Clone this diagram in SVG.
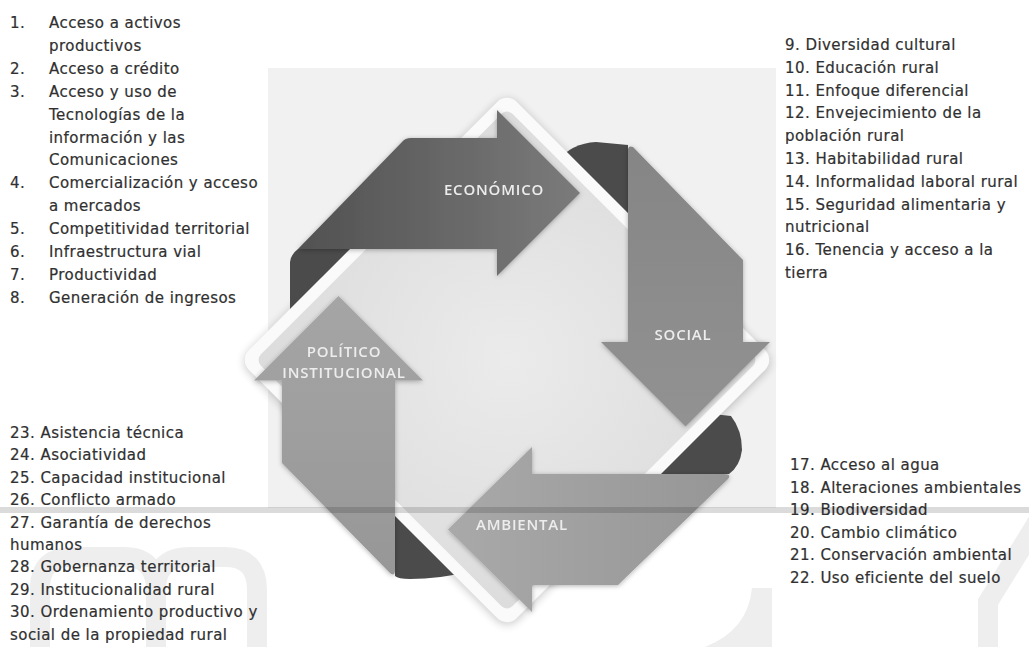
<svg xmlns="http://www.w3.org/2000/svg" width="1029" height="647" viewBox="0 0 1029 647">
<style>
.t{font-family:"DejaVu Sans","Liberation Sans",sans-serif;font-size:15px;fill:#303030;stroke:#303030;stroke-width:0.2px;letter-spacing:0.45px}
.lbl{font-family:"Open Sans","Liberation Sans",sans-serif;font-size:15px;font-weight:600;fill:#ededed;letter-spacing:0.8px;text-anchor:middle}
.fold{fill:#4b4b4b}
.wm{fill:none;stroke:#eeeeee;stroke-width:20}
</style>
<defs>
<linearGradient id="gE" x1="0" y1="0" x2="1" y2="0"><stop offset="0" stop-color="#515151"/><stop offset="1" stop-color="#7b7b7b"/></linearGradient>
<linearGradient id="gS" x1="0" y1="0" x2="0" y2="1"><stop offset="0" stop-color="#858585"/><stop offset="1" stop-color="#929292"/></linearGradient>
<linearGradient id="gA" x1="0" y1="0" x2="1" y2="0"><stop offset="0" stop-color="#a9a9a9"/><stop offset="1" stop-color="#969696"/></linearGradient>
<linearGradient id="gP" x1="0" y1="0" x2="0" y2="1"><stop offset="0" stop-color="#a5a5a5"/><stop offset="1" stop-color="#979797"/></linearGradient>
<radialGradient id="gIn" cx="0.5" cy="0.5" r="0.7"><stop offset="0" stop-color="#ebebeb"/><stop offset="1" stop-color="#dcdcdc"/></radialGradient>
<filter id="sh" x="-20%" y="-20%" width="140%" height="140%"><feDropShadow dx="0" dy="1" stdDeviation="2.5" flood-color="#000" flood-opacity="0.3"/></filter>
<filter id="blur" x="-10%" y="-10%" width="120%" height="120%"><feGaussianBlur stdDeviation="5"/></filter>
</defs>

<rect width="1029" height="647" fill="#ffffff"/>
<rect id="panel" x="268" y="68" width="508" height="440" fill="#f1f1f1"/>

<g id="watermark">
<path class="wm" d="M40 647 V588 Q40 557 72 557 H124 Q156 557 156 590 V647 M156 590 Q156 557 190 557 H225 Q257 557 257 590 V647"/>
<path class="wm" stroke-width="18" d="M1040 518 L988 602 V647"/>
<path d="M752 588 L772 588 L772 647 L705 647 Q748 630 752 588 Z" fill="#eeeeee"/>
</g>

<g id="diagram">
<rect x="-189.5" y="-189.5" width="379" height="379" rx="14" fill="#000" opacity="0.22" filter="url(#blur)" transform="translate(507 362) rotate(45)"/>
<g id="folds">
<path class="fold" d="M298 249 L352 249 L352 314 L290 314 L290 262 Q291 254 298 249 Z"/>
<path class="fold" d="M556 162 Q572 143 596 142 L628 145 L628 232 L556 232 Z"/>
<path class="fold" d="M695 412 L731 416 Q742 430 742 450 Q740 466 729 474 L640 474 Z"/>
<path class="fold" d="M395 505 L466 505 L466 572 Q440 579 410 579 Q398 579 395 576 Z"/>
</g>
<g id="frame">
<rect x="-189.5" y="-189.5" width="379" height="379" rx="14" fill="#fafafa" transform="translate(507 360) rotate(45)"/>
<rect x="-178" y="-178" width="356" height="356" rx="8" fill="url(#gIn)" transform="translate(507 360) rotate(45)"/>
</g>

<g id="economico" filter="url(#sh)">
<path d="M402 142 Q405 138 411 138 L497 138 L497 110 L580 193 L497 276 L497 249 L298 249 Z" fill="url(#gE)"/>
<text class="lbl" x="494" y="194.5">ECONÓMICO</text>
</g>
<g id="social" filter="url(#sh)">
<path d="M628 150 Q628 145 633 147 L743 260 L743 342 L770 342 L685.5 426.5 L601 342 L628 342 Z" fill="url(#gS)"/>
<text class="lbl" x="683" y="339.5">SOCIAL</text>
</g>
<g id="ambiental" filter="url(#sh)">
<path d="M448 529.5 L532 447 L532 474 L724 474 Q732 474 728 479 L618 585 L532 585 L532 612 Z" fill="url(#gA)"/>
<text class="lbl" x="522" y="529.5">AMBIENTAL</text>
</g>
<g id="politico" filter="url(#sh)">
<path d="M338.5 296 L423 380.5 L395 380.5 L395 570 Q395 578 389 572 L282 463 L282 380.5 L254 380.5 Z" fill="url(#gP)"/>
<text class="lbl" x="344" y="357">POLÍTICO</text>
<text class="lbl" x="344" y="378">INSTITUCIONAL</text>
</g>
</g>

<g id="list-economico">
<text class="t" x="10" y="28">1.</text><text class="t" x="49" y="28">Acceso a activos</text>
<text class="t" x="49" y="50.9">productivos</text>
<text class="t" x="10" y="73.8">2.</text><text class="t" x="49" y="73.8">Acceso a crédito</text>
<text class="t" x="10" y="96.7">3.</text><text class="t" x="49" y="96.7">Acceso y uso de</text>
<text class="t" x="49" y="119.6">Tecnologías de la</text>
<text class="t" x="49" y="142.5">información y las</text>
<text class="t" x="49" y="165.4">Comunicaciones</text>
<text class="t" x="10" y="188.3">4.</text><text class="t" x="49" y="188.3">Comercialización y acceso</text>
<text class="t" x="49" y="211.2">a mercados</text>
<text class="t" x="10" y="234.1">5.</text><text class="t" x="49" y="234.1">Competitividad territorial</text>
<text class="t" x="10" y="257">6.</text><text class="t" x="49" y="257">Infraestructura vial</text>
<text class="t" x="10" y="279.9">7.</text><text class="t" x="49" y="279.9">Productividad</text>
<text class="t" x="10" y="302.8">8.</text><text class="t" x="49" y="302.8">Generación de ingresos</text>
</g>

<g id="list-social">
<text class="t" x="785" y="50">9. Diversidad cultural</text>
<text class="t" x="785" y="72.8">10. Educación rural</text>
<text class="t" x="785" y="95.6">11. Enfoque diferencial</text>
<text class="t" x="785" y="118.4">12. Envejecimiento de la</text>
<text class="t" x="785" y="141.2">población rural</text>
<text class="t" x="785" y="164">13. Habitabilidad rural</text>
<text class="t" x="785" y="186.8">14. Informalidad laboral rural</text>
<text class="t" x="785" y="209.6">15. Seguridad alimentaria y</text>
<text class="t" x="785" y="232.4">nutricional</text>
<text class="t" x="785" y="255.2">16. Tenencia y acceso a la</text>
<text class="t" x="785" y="278">tierra</text>
</g>

<g id="list-ambiental">
<text class="t" x="790" y="470">17. Acceso al agua</text>
<text class="t" x="790" y="492.6">18. Alteraciones ambientales</text>
<text class="t" x="790" y="515.2">19. Biodiversidad</text>
<text class="t" x="790" y="537.8">20. Cambio climático</text>
<text class="t" x="790" y="560.4">21. Conservación ambiental</text>
<text class="t" x="790" y="583">22. Uso eficiente del suelo</text>
</g>

<g id="list-politico">
<text class="t" x="10" y="438">23. Asistencia técnica</text>
<text class="t" x="10" y="460.4">24. Asociatividad</text>
<text class="t" x="10" y="482.8">25. Capacidad institucional</text>
<text class="t" x="10" y="505.2">26. Conflicto armado</text>
<text class="t" x="10" y="527.6">27. Garantía de derechos</text>
<text class="t" x="10" y="550">humanos</text>
<text class="t" x="10" y="572.4">28. Gobernanza territorial</text>
<text class="t" x="10" y="594.8">29. Institucionalidad rural</text>
<text class="t" x="10" y="617.2">30. Ordenamiento productivo y</text>
<text class="t" x="10" y="639.6">social de la propiedad rural</text>
</g>

<rect id="band" x="0" y="507" width="1029" height="6" fill="#000" opacity="0.14"/>
</svg>
